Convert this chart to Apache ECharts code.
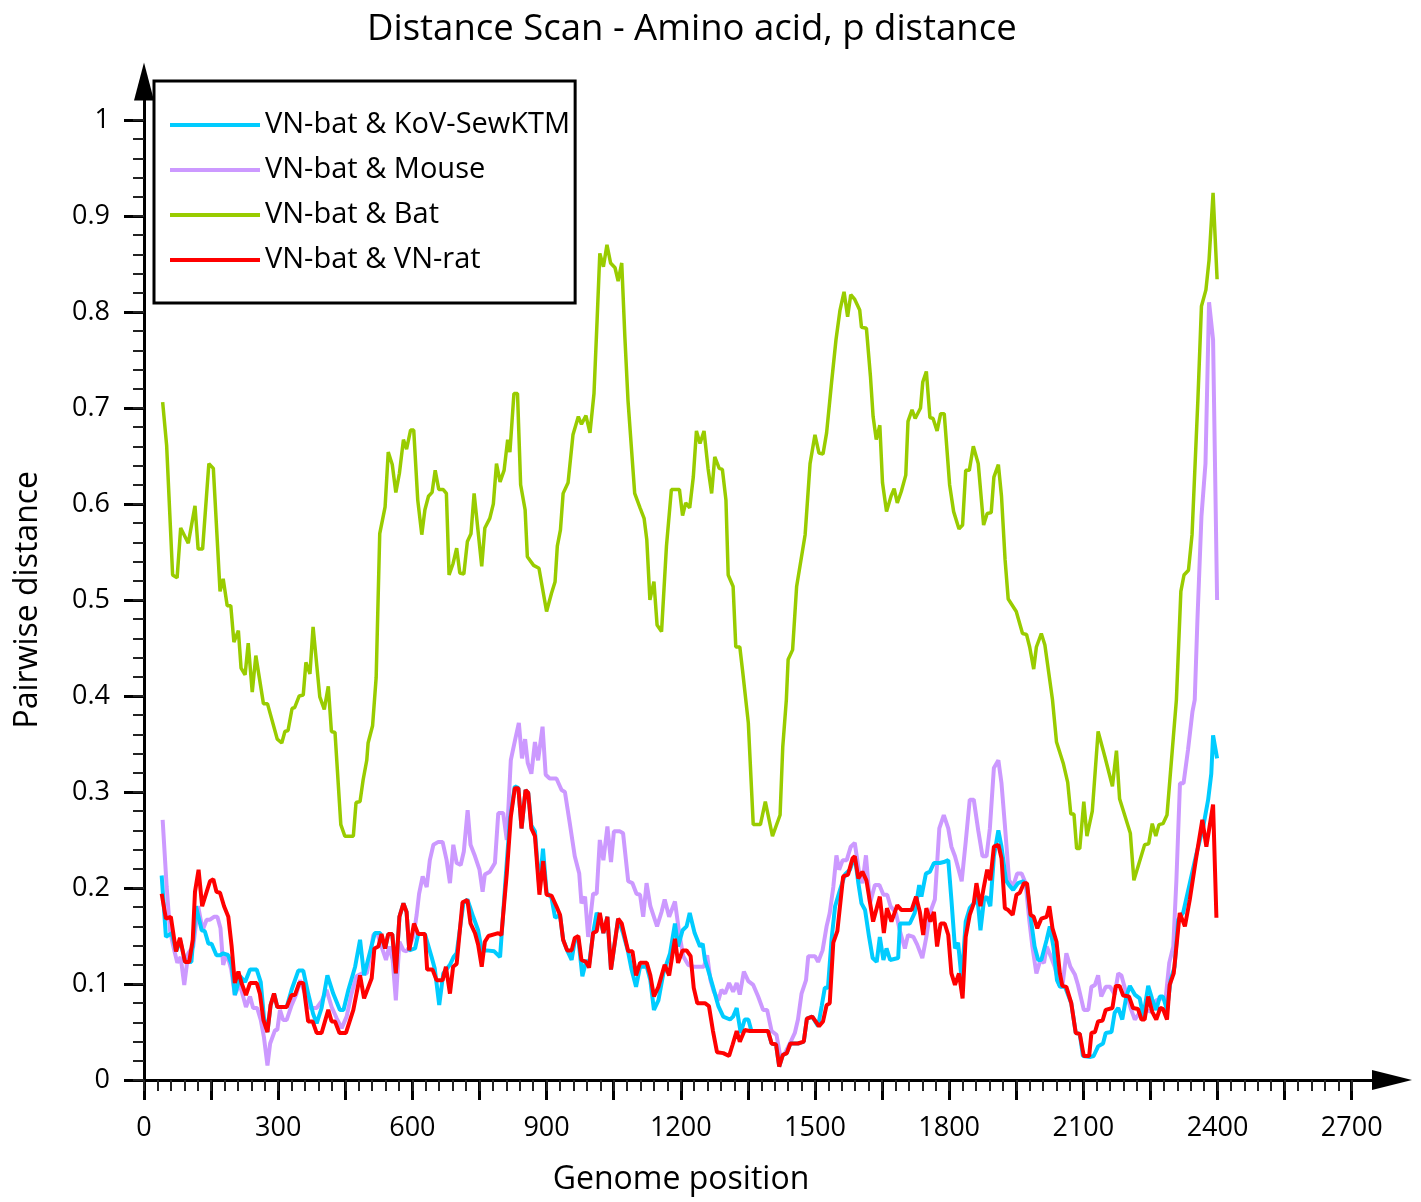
<!DOCTYPE html>
<html>
<head>
<meta charset="utf-8">
<script src="https://cdn.jsdelivr.net/npm/echarts@6/dist/echarts.min.js"></script>
<style>html,body{margin:0;padding:0;background:#fff;}#chart{width:1421px;height:1202px;}</style>
</head>
<body>
<div id="chart"></div>
<script>
const seriesNames = ['VN-bat & KoV-SewKTM', 'VN-bat & Mouse', 'VN-bat & Bat', 'VN-bat & VN-rat'];
const xLabelValues = [0, 300, 600, 900, 1200, 1500, 1800, 2100, 2400, 2700];
const xMajorTicks = [0,150,300,450,600,750,900,1050,1200,1350,1500,1650,1800,1950,2100,2250,2400,2550,2700];
const yLabelValues = [0, 0.1, 0.2, 0.3, 0.4, 0.5, 0.6, 0.7, 0.8, 0.9, 1];

const kovData = [[39.5,0.213],[49,0.149],[62,0.153],[72,0.134],[81,0.145],[92,0.123],[106,0.123],[116,0.181],[129,0.156],[136,0.155],[144,0.142],[151,0.142],[162,0.130],[170,0.130],[177,0.132],[188,0.130],[196,0.120],[203,0.0885],[215,0.108],[226,0.102],[237,0.115],[252,0.115],[261,0.102],[268,0.066],[276,0.050],[283,0.078],[291,0.090],[298,0.076],[319,0.076],[330,0.094],[345,0.114],[356,0.114],[367,0.090],[378,0.069],[386,0.059],[397,0.075],[410,0.109],[423,0.090],[438,0.073],[446,0.073],[457,0.094],[472,0.118],[483,0.146],[492,0.109],[509,0.140],[516,0.153],[528,0.153],[539,0.137],[546,0.152],[555,0.152],[563,0.111],[571,0.170],[580,0.184],[587,0.175],[593,0.135],[606,0.137],[613,0.152],[628,0.152],[643,0.128],[650,0.116],[660,0.078],[669,0.111],[684,0.120],[692,0.128],[699,0.132],[714,0.184],[723,0.188],[736,0.170],[747,0.156],[755,0.135],[766,0.135],[783,0.134],[796,0.128],[807,0.201],[818,0.271],[829,0.306],[837,0.304],[844,0.262],[853,0.302],[859,0.299],[866,0.265],[874,0.259],[884,0.200],[892,0.241],[900,0.195],[911,0.190],[919,0.169],[930,0.172],[937,0.146],[946,0.135],[956,0.125],[963,0.145],[971,0.147],[980,0.108],[989,0.125],[995,0.120],[1004,0.153],[1012,0.174],[1019,0.170],[1027,0.153],[1036,0.170],[1044,0.115],[1060,0.168],[1071,0.153],[1082,0.134],[1090,0.115],[1100,0.097],[1109,0.118],[1124,0.118],[1132,0.104],[1140,0.073],[1150,0.083],[1161,0.111],[1176,0.132],[1187,0.163],[1194,0.139],[1204,0.156],[1213,0.160],[1220,0.174],[1231,0.153],[1243,0.139],[1249,0.142],[1254,0.125],[1261,0.115],[1272,0.097],[1284,0.077],[1295,0.066],[1310,0.063],[1317,0.066],[1325,0.075],[1334,0.049],[1343,0.063],[1351,0.063],[1358,0.051],[1395,0.051],[1403,0.038],[1413,0.037],[1420,0.014],[1428,0.026],[1437,0.028],[1445,0.038],[1462,0.038],[1475,0.040],[1482,0.064],[1494,0.066],[1507,0.056],[1515,0.077],[1522,0.096],[1529,0.096],[1537,0.146],[1545,0.181],[1556,0.198],[1567,0.214],[1578,0.219],[1589,0.233],[1597,0.205],[1604,0.184],[1612,0.177],[1621,0.149],[1629,0.127],[1638,0.123],[1645,0.149],[1653,0.125],[1660,0.137],[1668,0.125],[1686,0.127],[1690,0.163],[1712,0.163],[1723,0.174],[1733,0.203],[1738,0.191],[1748,0.215],[1757,0.217],[1766,0.226],[1779,0.226],[1788,0.227],[1798,0.229],[1805,0.188],[1813,0.137],[1820,0.143],[1828,0.104],[1837,0.165],[1846,0.179],[1855,0.184],[1863,0.191],[1870,0.156],[1878,0.188],[1884,0.191],[1892,0.181],[1900,0.233],[1910,0.260],[1917,0.243],[1927,0.208],[1934,0.203],[1943,0.198],[1954,0.205],[1965,0.207],[1974,0.203],[1982,0.170],[1991,0.139],[1999,0.125],[2006,0.125],[2018,0.146],[2025,0.160],[2033,0.139],[2041,0.104],[2048,0.097],[2059,0.097],[2073,0.080],[2083,0.049],[2092,0.048],[2099,0.025],[2116,0.024],[2123,0.025],[2133,0.035],[2144,0.038],[2150,0.049],[2163,0.050],[2170,0.070],[2178,0.075],[2187,0.063],[2196,0.087],[2204,0.098],[2215,0.089],[2226,0.085],[2234,0.066],[2245,0.098],[2254,0.084],[2263,0.073],[2271,0.087],[2278,0.087],[2287,0.073],[2295,0.104],[2304,0.118],[2312,0.167],[2323,0.174],[2338,0.205],[2353,0.236],[2368,0.264],[2379,0.292],[2386,0.319],[2390,0.359],[2399,0.335]];

const mouseData = [[41.7,0.271],[50.7,0.201],[58,0.156],[65.6,0.139],[74.5,0.122],[82,0.128],[90,0.099],[99,0.132],[110,0.139],[121,0.181],[131,0.156],[140,0.167],[147.5,0.167],[156.5,0.170],[164,0.170],[171,0.158],[177,0.120],[185,0.132],[195,0.115],[203,0.0885],[214,0.100],[228,0.076],[237,0.087],[244,0.075],[253,0.075],[261,0.0625],[268,0.045],[276,0.015],[282,0.038],[293,0.052],[298,0.052],[304,0.073],[311,0.0625],[319,0.0625],[330,0.078],[341,0.090],[349,0.104],[360,0.090],[371,0.075],[386,0.075],[397,0.082],[408,0.094],[419.5,0.076],[431,0.064],[442,0.054],[453,0.066],[464,0.090],[475,0.108],[486.5,0.111],[498,0.111],[505,0.128],[512.6,0.151],[521.5,0.153],[531,0.139],[541,0.125],[548,0.139],[556,0.125],[563,0.083],[571,0.144],[580,0.135],[587,0.134],[593,0.139],[602,0.149],[609.5,0.172],[615,0.194],[623,0.212],[632,0.201],[639,0.229],[647,0.245],[658,0.248],[667.5,0.248],[676.5,0.229],[684,0.205],[691.5,0.245],[699,0.226],[708,0.224],[715,0.238],[723.5,0.281],[730,0.245],[740,0.233],[750,0.219],[757,0.196],[762,0.214],[773,0.217],[784.5,0.226],[792,0.278],[803,0.278],[811,0.250],[820,0.333],[830,0.355],[838,0.372],[845,0.335],[852,0.355],[858,0.330],[866,0.319],[874,0.352],[881,0.333],[891,0.368],[898,0.318],[907,0.314],[922,0.314],[933.5,0.302],[941,0.300],[952,0.267],[963,0.233],[973,0.215],[978,0.184],[986,0.191],[993,0.149],[1004,0.194],[1012,0.194],[1019,0.250],[1027,0.229],[1036,0.264],[1044,0.227],[1050.5,0.259],[1064,0.259],[1071,0.257],[1082.5,0.207],[1092,0.205],[1101,0.194],[1109,0.193],[1116,0.170],[1123.5,0.205],[1132,0.181],[1147,0.160],[1157,0.175],[1164,0.188],[1174,0.170],[1187,0.186],[1196.5,0.153],[1205.5,0.129],[1216.6,0.120],[1228,0.118],[1251.6,0.118],[1259,0.130],[1266.5,0.104],[1274,0.092],[1284,0.083],[1291,0.094],[1299,0.090],[1308,0.101],[1317,0.092],[1325,0.101],[1332,0.089],[1341,0.113],[1351,0.103],[1362,0.099],[1373,0.087],[1384,0.073],[1393,0.073],[1403,0.051],[1414,0.047],[1423,0.023],[1433,0.028],[1444,0.038],[1455,0.049],[1462,0.063],[1470,0.090],[1480,0.104],[1485,0.129],[1500,0.129],[1507,0.123],[1517,0.135],[1526,0.160],[1533,0.174],[1541,0.201],[1548,0.234],[1554,0.219],[1562,0.229],[1571,0.229],[1580,0.243],[1589,0.247],[1599,0.215],[1606,0.205],[1614,0.234],[1623,0.184],[1634,0.203],[1644,0.203],[1653,0.193],[1661.5,0.193],[1669,0.181],[1681,0.174],[1690,0.155],[1701,0.137],[1708,0.151],[1720,0.149],[1728.5,0.141],[1740,0.127],[1749,0.149],[1757,0.174],[1768,0.188],[1778,0.262],[1788,0.276],[1798,0.262],[1805,0.243],[1813,0.233],[1820,0.221],[1828,0.207],[1837,0.248],[1846,0.292],[1855,0.292],[1865,0.260],[1874.5,0.233],[1883.5,0.233],[1891,0.262],[1900,0.325],[1910,0.333],[1917,0.309],[1924.5,0.266],[1934,0.208],[1943,0.202],[1952,0.215],[1962,0.215],[1971,0.205],[1979,0.167],[1986,0.139],[1995,0.111],[2004,0.125],[2012,0.122],[2018,0.139],[2027,0.129],[2036,0.118],[2046,0.099],[2053,0.097],[2062,0.132],[2071,0.118],[2081,0.110],[2088,0.099],[2101,0.073],[2111,0.073],[2118,0.097],[2126,0.099],[2133,0.109],[2140,0.087],[2150,0.097],[2160,0.097],[2170,0.089],[2178,0.111],[2185,0.109],[2196,0.090],[2207,0.073],[2215,0.063],[2226,0.070],[2234,0.063],[2241,0.073],[2252,0.071],[2263,0.083],[2275,0.085],[2284,0.085],[2292,0.122],[2301,0.139],[2308,0.208],[2316,0.309],[2324,0.309],[2334,0.344],[2344,0.384],[2349,0.396],[2355,0.479],[2364,0.587],[2373,0.642],[2381,0.810],[2390,0.771],[2399,0.500]];

const batData = [[41.7,0.706],[50.6,0.661],[64,0.526],[74,0.523],[82,0.575],[99,0.559],[114,0.598],[121,0.553],[131,0.553],[145,0.642],[155,0.637],[170,0.509],[177,0.522],[186,0.494],[194,0.494],[201,0.456],[211,0.468],[217,0.429],[226,0.422],[233,0.455],[242,0.404],[250,0.442],[267,0.392],[276,0.392],[298,0.355],[308,0.351],[315,0.363],[322,0.364],[331,0.387],[337,0.388],[347,0.400],[356,0.401],[362,0.435],[371,0.423],[378,0.472],[393,0.399],[403,0.386],[412,0.410],[419,0.363],[427,0.362],[440,0.266],[449,0.254],[468,0.254],[474,0.289],[483,0.290],[490,0.313],[498,0.333],[501,0.351],[511,0.369],[519,0.419],[527,0.569],[539,0.597],[546,0.654],[555,0.641],[563,0.612],[571,0.632],[580,0.667],[587,0.657],[596,0.677],[603,0.677],[612,0.604],[621,0.568],[628,0.594],[636,0.608],[644,0.612],[651,0.635],[659,0.615],[669,0.615],[676,0.611],[682,0.526],[691,0.538],[699,0.554],[706,0.528],[715,0.527],[723,0.561],[731,0.569],[738,0.611],[747,0.571],[755,0.535],[762,0.575],[773,0.585],[781,0.600],[788,0.642],[796,0.623],[805,0.635],[813,0.667],[818,0.654],[827,0.715],[835,0.715],[842,0.620],[852,0.594],[857,0.545],[871,0.536],[883,0.533],[900,0.488],[911,0.507],[919,0.519],[924,0.556],[931,0.573],[937,0.611],[948,0.622],[959,0.672],[971,0.691],[978,0.683],[988,0.692],[997,0.674],[1006,0.715],[1013,0.792],[1019,0.861],[1027,0.847],[1035,0.870],[1043,0.851],[1053,0.846],[1060,0.832],[1068,0.851],[1075,0.774],[1082,0.708],[1097,0.611],[1109,0.596],[1118,0.585],[1124,0.563],[1131,0.500],[1140,0.519],[1147,0.474],[1157,0.467],[1168,0.556],[1179,0.615],[1197,0.615],[1204,0.588],[1211,0.601],[1220,0.596],[1228,0.628],[1235,0.676],[1243,0.663],[1252,0.676],[1261,0.637],[1269,0.611],[1276,0.649],[1286,0.637],[1293,0.636],[1301,0.604],[1306,0.526],[1317,0.514],[1323,0.451],[1332,0.451],[1338,0.427],[1351,0.372],[1362,0.266],[1378,0.266],[1389,0.290],[1405,0.254],[1422,0.276],[1428,0.347],[1436,0.396],[1440,0.438],[1450,0.448],[1459,0.514],[1478,0.568],[1489,0.642],[1500,0.672],[1509,0.653],[1518,0.652],[1526,0.674],[1537,0.726],[1547,0.771],[1556,0.802],[1565,0.821],[1573,0.795],[1580,0.818],[1589,0.813],[1600,0.802],[1604,0.784],[1615,0.783],[1624,0.733],[1630,0.691],[1637,0.667],[1645,0.682],[1651,0.622],[1660,0.592],[1670,0.608],[1677,0.616],[1684,0.601],[1693,0.613],[1703,0.630],[1708,0.686],[1717,0.698],[1724,0.689],[1736,0.700],[1741,0.727],[1749,0.738],[1757,0.690],[1764,0.689],[1773,0.676],[1781,0.694],[1789,0.694],[1801,0.620],[1810,0.592],[1822,0.574],[1830,0.578],[1837,0.635],[1845,0.635],[1854,0.660],[1865,0.642],[1877,0.578],[1885,0.590],[1894,0.591],[1900,0.628],[1910,0.641],[1917,0.608],[1925,0.542],[1932,0.501],[1950,0.488],[1964,0.465],[1973,0.464],[1980,0.451],[1989,0.428],[1995,0.451],[2006,0.465],[2014,0.453],[2031,0.396],[2040,0.352],[2055,0.330],[2065,0.310],[2072,0.277],[2079,0.277],[2085,0.241],[2092,0.241],[2101,0.290],[2108,0.254],[2120,0.280],[2133,0.363],[2148,0.337],[2165,0.306],[2174,0.343],[2181,0.293],[2205,0.257],[2213,0.208],[2237,0.245],[2246,0.246],[2254,0.267],[2262,0.254],[2269,0.266],[2278,0.267],[2287,0.276],[2301,0.356],[2308,0.396],[2318,0.509],[2325,0.526],[2335,0.531],[2343,0.568],[2356,0.708],[2364,0.806],[2374,0.823],[2381,0.854],[2390,0.924],[2399,0.834]];

const ratData = [[39.5,0.194],[49,0.168],[60,0.170],[71.5,0.134],[80.5,0.148],[91.6,0.123],[101,0.123],[109,0.146],[114,0.196],[122,0.219],[130,0.181],[147.5,0.207],[155,0.209],[162,0.196],[170,0.195],[179,0.181],[188.5,0.170],[196,0.139],[203,0.101],[211,0.113],[218,0.101],[228,0.0885],[237,0.101],[252,0.101],[259,0.090],[267,0.0625],[276,0.050],[283,0.078],[290.6,0.090],[298,0.076],[319,0.076],[330,0.0885],[337.5,0.0885],[347,0.101],[356,0.101],[367,0.061],[377,0.061],[386,0.049],[397,0.049],[412,0.073],[419.5,0.061],[427,0.061],[437,0.049],[451.5,0.049],[468,0.073],[483,0.109],[492,0.085],[509,0.106],[515,0.137],[524,0.139],[531,0.152],[539,0.137],[546,0.152],[555,0.152],[563,0.111],[571,0.170],[580,0.184],[587,0.175],[593,0.135],[603.5,0.163],[613,0.152],[628,0.152],[633,0.115],[645,0.115],[654,0.104],[667.5,0.104],[675,0.118],[684,0.090],[691,0.118],[699,0.121],[712,0.185],[723,0.1875],[730,0.163],[740,0.153],[747,0.141],[755,0.118],[762,0.144],[770,0.150],[792,0.153],[799,0.151],[811,0.215],[820,0.274],[829,0.304],[837,0.304],[844,0.262],[853,0.302],[859,0.299],[866,0.262],[874,0.254],[884,0.193],[892.5,0.228],[900,0.193],[911,0.192],[922,0.181],[930,0.172],[937,0.146],[946,0.135],[956,0.135],[963,0.148],[971,0.150],[978,0.125],[988,0.123],[995,0.117],[1004,0.153],[1012,0.155],[1019,0.174],[1027,0.153],[1036,0.170],[1044,0.115],[1060,0.168],[1068,0.163],[1082.5,0.134],[1092,0.134],[1100,0.109],[1109,0.122],[1124,0.122],[1132,0.109],[1140,0.087],[1150,0.097],[1164,0.120],[1174,0.109],[1187,0.147],[1194,0.122],[1204,0.135],[1213,0.135],[1222,0.129],[1229,0.096],[1237,0.080],[1254,0.080],[1263,0.077],[1272,0.051],[1281,0.029],[1295,0.028],[1308,0.025],[1316,0.037],[1325,0.051],[1332,0.040],[1343,0.052],[1354,0.051],[1395,0.051],[1403,0.038],[1413,0.037],[1420,0.014],[1428,0.026],[1437,0.028],[1445,0.038],[1462,0.038],[1475,0.040],[1482,0.064],[1494,0.066],[1509,0.056],[1518,0.061],[1526,0.078],[1533,0.080],[1541,0.143],[1550,0.155],[1563,0.212],[1574,0.214],[1584,0.231],[1589,0.233],[1597,0.210],[1606,0.217],[1615,0.208],[1630,0.165],[1645,0.191],[1654,0.153],[1661,0.179],[1671,0.165],[1684,0.182],[1693.5,0.177],[1716,0.177],[1726,0.191],[1734.5,0.175],[1742,0.151],[1749,0.179],[1758,0.165],[1766,0.175],[1773,0.139],[1781,0.163],[1790,0.163],[1798,0.151],[1805,0.111],[1813,0.099],[1822,0.111],[1830,0.085],[1837,0.149],[1846,0.172],[1855,0.184],[1861,0.205],[1870,0.181],[1877.5,0.201],[1885,0.219],[1892,0.208],[1900,0.243],[1910,0.245],[1917,0.231],[1924.5,0.179],[1932,0.177],[1942,0.172],[1950.5,0.193],[1958,0.195],[1967,0.205],[1974,0.205],[1982,0.172],[1989,0.170],[1997,0.158],[2006,0.168],[2018,0.170],[2024,0.181],[2031,0.158],[2040,0.144],[2047.5,0.111],[2053,0.098],[2062,0.097],[2073,0.080],[2083,0.049],[2092,0.048],[2101,0.025],[2113,0.025],[2118,0.049],[2126,0.050],[2133,0.061],[2143,0.062],[2150,0.073],[2165,0.075],[2172.5,0.098],[2181,0.098],[2189,0.088],[2202,0.087],[2211,0.075],[2222,0.074],[2230,0.063],[2237,0.063],[2245,0.087],[2254,0.071],[2263,0.063],[2272,0.075],[2278,0.074],[2287,0.063],[2293,0.099],[2302,0.111],[2315.5,0.174],[2327,0.160],[2338,0.188],[2351,0.228],[2366,0.271],[2375,0.243],[2390,0.287],[2397.5,0.169]];

const xMinorTicks = [];
for (let v = 0; v <= 2700; v += 30) xMinorTicks.push(v);
const yMinorTicks = [];
for (let i = 0; i <= 50; i++) yMinorTicks.push(Math.round(i * 2) / 100);

const FONT = '"Open Sans", "DejaVu Sans", sans-serif';
const chart = echarts.init(document.getElementById('chart'), null, {renderer: 'canvas'});

const option = {
  backgroundColor: '#ffffff',
  animation: false,
  title: {
    text: 'Distance Scan - Amino acid, p distance',
    left: 362, top: 6,
    textStyle: {fontFamily: FONT, fontSize: 36.5, fontWeight: 'normal', color: '#000'}
  },
  legend: {
    orient: 'vertical',
    left: 154, top: 81,
    data: seriesNames,
    icon: 'rect',
    itemWidth: 90, itemHeight: 4,
    itemGap: 13, itemTextGap: 7,
    padding: [28, 5, 27, 16],
    borderColor: '#000', borderWidth: 3, borderRadius: 0,
    backgroundColor: '#fff',
    textStyle: {fontFamily: FONT, fontSize: 29, color: '#000', lineHeight: 32}
  },
  grid: {left: 144, right: 29, top: 81.5, bottom: 122, containLabel: false},
  xAxis: [{
    type: 'value', min: 0, max: 2790,
    name: 'Genome position', nameLocation: 'middle', nameGap: 84,
    nameTextStyle: {fontFamily: FONT, fontSize: 32, color: '#000', padding: [0, 174, 0, 0]},
    axisLine: {show: true, onZero: false, lineStyle: {color: '#000', width: 3}, symbol: ['none', 'triangle'], symbolSize: [20, 40]},
    axisTick: {show: true, customValues: xMajorTicks, length: 20, lineStyle: {color: '#000', width: 3}},
    axisLabel: {show: true, customValues: xLabelValues, margin: 35, fontFamily: FONT, fontSize: 27, color: '#000', formatter: function (v) { return String(v); }},
    splitLine: {show: false}
  }, {
    type: 'value', min: 0, max: 2790, position: 'bottom',
    axisLine: {show: false},
    axisTick: {show: true, customValues: xMinorTicks, length: 11, lineStyle: {color: '#222', width: 2}},
    axisLabel: {show: false},
    splitLine: {show: false}
  }],
  yAxis: [{
    type: 'value', min: 0, max: 1.04,
    name: 'Pairwise distance', nameLocation: 'middle', nameGap: 100,
    nameTextStyle: {fontFamily: FONT, fontSize: 32, color: '#000', padding: [0, 38, 0, 0]},
    axisLine: {show: true, onZero: false, lineStyle: {color: '#000', width: 3}, symbol: ['none', 'triangle'], symbolSize: [20, 38]},
    axisTick: {show: true, customValues: yLabelValues, length: 20, lineStyle: {color: '#000', width: 3}},
    axisLabel: {show: true, customValues: yLabelValues, margin: 34, fontFamily: FONT, fontSize: 27, color: '#000', formatter: function (v) { return String(v); }},
    splitLine: {show: false}
  }, {
    type: 'value', min: 0, max: 1.04, position: 'left',
    axisLine: {show: false},
    axisTick: {show: true, customValues: yMinorTicks, length: 11, lineStyle: {color: '#222', width: 2}},
    axisLabel: {show: false},
    splitLine: {show: false}
  }],
  series: [
    {name: seriesNames[1], type: 'line', data: mouseData, showSymbol: false, symbol: 'none', color: '#CC99FF', lineStyle: {width: 4, color: '#CC99FF'}, z: 2},
    {name: seriesNames[2], type: 'line', data: batData, showSymbol: false, symbol: 'none', color: '#99CC00', lineStyle: {width: 3.5, color: '#99CC00'}, z: 3},
    {name: seriesNames[0], type: 'line', data: kovData, showSymbol: false, symbol: 'none', color: '#00CCFF', lineStyle: {width: 4, color: '#00CCFF'}, z: 4},
    {name: seriesNames[3], type: 'line', data: ratData, showSymbol: false, symbol: 'none', color: '#FF0000', lineStyle: {width: 4, color: '#FF0000'}, z: 5}
  ]
};
chart.setOption(option);
</script>
</body>
</html>
